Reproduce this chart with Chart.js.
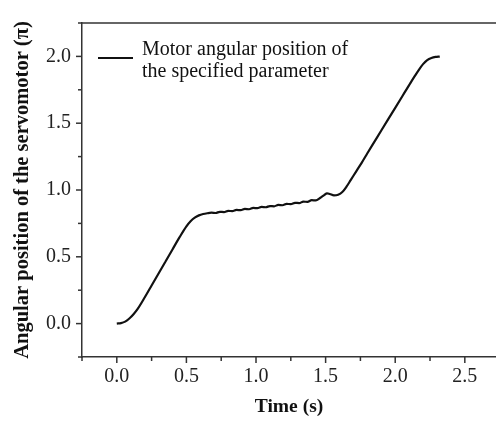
<!DOCTYPE html>
<html>
<head>
<meta charset="utf-8">
<script src="https://cdn.jsdelivr.net/npm/chart.js@4/dist/chart.umd.min.js"></script>
<style>
  html, body { margin: 0; padding: 0; background: #fff; overflow: hidden; }
  #wrap { width: 496px; height: 421px; }
</style>
</head>
<body>
<div id="wrap"><canvas id="servo-chart" width="496" height="421"></canvas></div>
<script>
// time (s) and servomotor angular position (pi)
const timeValues = [
    0.00, 0.03, 0.06, 0.09, 0.12, 0.15, 0.20, 0.25, 0.30, 0.35,
    0.40, 0.45, 0.50, 0.53, 0.56, 0.59, 0.62, 0.65, 0.68, 0.71,
    0.74, 0.77, 0.80, 0.83, 0.86, 0.89, 0.92, 0.95, 0.98, 1.01,
    1.04, 1.07, 1.10, 1.13, 1.16, 1.19, 1.22, 1.25, 1.28, 1.31,
    1.34, 1.37, 1.40, 1.43, 1.46, 1.49, 1.51, 1.53, 1.56, 1.59,
    1.62, 1.65, 1.68, 1.72, 1.76, 1.80, 1.85, 1.90, 1.95, 2.00,
    2.05, 2.10, 2.14, 2.17, 2.20, 2.23, 2.26, 2.29, 2.32
];
const positionValues = [
    0.000, 0.004, 0.015, 0.038, 0.070, 0.110, 0.195, 0.285, 0.375, 0.465,
    0.555, 0.645, 0.728, 0.766, 0.793, 0.810, 0.820, 0.826, 0.830, 0.828,
    0.837, 0.835, 0.844, 0.842, 0.851, 0.849, 0.858, 0.856, 0.866, 0.864,
    0.873, 0.871, 0.880, 0.878, 0.888, 0.886, 0.896, 0.894, 0.904, 0.902,
    0.913, 0.911, 0.924, 0.922, 0.940, 0.962, 0.975, 0.970, 0.960, 0.965,
    0.985, 1.025, 1.074, 1.140, 1.205, 1.275, 1.360, 1.445, 1.530, 1.615,
    1.700, 1.785, 1.852, 1.900, 1.942, 1.972, 1.988, 1.996, 1.999
];
const legendLines = ['Motor angular position of', 'the specified parameter'];
const xTitle = 'Time (s)';
const yTitle = 'Angular position of the servomotor (\u03c0)';

const FONT = "'Liberation Serif', 'Times New Roman', serif";
const AXIS_COLOR = '#333';

function isMajor(v) {
    return Math.abs(v * 2 - Math.round(v * 2)) < 1e-6;
}

// outward ticks, long at labelled values, short in between
const tickMarks = {
    id: 'tickMarks',
    afterDraw(chart) {
        const ctx = chart.ctx;
        const {x, y} = chart.scales;
        ctx.save();
        ctx.strokeStyle = AXIS_COLOR;
        ctx.lineWidth = 1.5;
        x.ticks.forEach(t => {
            const px = x.getPixelForValue(t.value);
            const len = isMajor(t.value) ? 6 : 4;
            ctx.beginPath();
            ctx.moveTo(px, x.top);
            ctx.lineTo(px, x.top + len);
            ctx.stroke();
        });
        y.ticks.forEach(t => {
            const py = y.getPixelForValue(t.value);
            const len = isMajor(t.value) ? 6 : 4;
            ctx.beginPath();
            ctx.moveTo(y.right, py);
            ctx.lineTo(y.right - len, py);
            ctx.stroke();
        });
        // top frame line, no right side visible
        const area = chart.chartArea;
        ctx.beginPath();
        ctx.moveTo(area.left, area.top);
        ctx.lineTo(area.right, area.top);
        ctx.stroke();
        ctx.restore();
    }
};

const legendBox = {
    id: 'legendBox',
    afterDraw(chart) {
        const ctx = chart.ctx;
        const area = chart.chartArea;
        const x0 = area.left + 16;
        const y0 = area.top + 35;
        ctx.save();
        ctx.strokeStyle = '#111';
        ctx.lineWidth = 2;
        ctx.beginPath();
        ctx.moveTo(x0, y0);
        ctx.lineTo(x0 + 35, y0);
        ctx.stroke();
        ctx.fillStyle = '#111';
        ctx.font = "20px " + FONT;
        ctx.textBaseline = 'middle';
        ctx.fillText(legendLines[0], x0 + 44, y0 - 8);
        ctx.fillText(legendLines[1], x0 + 44, y0 + 14);
        ctx.restore();
    }
};

const points = timeValues.map((t, i) => ({x: t, y: positionValues[i]}));

new Chart(document.getElementById('servo-chart').getContext('2d'), {
    type: 'scatter',
    data: {
        datasets: [{
            label: legendLines.join(' '),
            data: points,
            showLine: true,
            borderColor: '#111',
            borderWidth: 2.2,
            pointRadius: 0,
            cubicInterpolationMode: 'monotone'
        }]
    },
    options: {
        responsive: false,
        animation: false,
        layout: { padding: { top: 23, right: 0, left: 0, bottom: 0 } },
        plugins: {
            legend: { display: false },
            tooltip: { enabled: false }
        },
        scales: {
            x: {
                type: 'linear',
                min: -0.25,
                max: 2.724,
                afterFit: scale => { scale.height = 64; },
                grid: { display: false, drawTicks: true, tickLength: 6 },
                border: { display: true, color: AXIS_COLOR, width: 1.5 },
                ticks: {
                    stepSize: 0.25,
                    includeBounds: false,
                    maxRotation: 0,
                    autoSkip: false,
                    padding: 2,
                    color: '#222',
                    font: { family: FONT, size: 20 },
                    callback: v => isMajor(v) ? v.toFixed(1) : ''
                },
                title: {
                    display: true,
                    text: xTitle,
                    color: '#111',
                    padding: { top: 0, bottom: 2 },
                    font: { family: FONT, size: 19.5, weight: 'bold' }
                }
            },
            y: {
                type: 'linear',
                min: -0.25,
                max: 2.25,
                afterFit: scale => { scale.width = 82; },
                grid: { display: false, drawTicks: true, tickLength: 6 },
                border: { display: true, color: AXIS_COLOR, width: 1.5 },
                ticks: {
                    stepSize: 0.25,
                    includeBounds: false,
                    autoSkip: false,
                    padding: 5,
                    color: '#222',
                    font: { family: FONT, size: 20 },
                    callback: v => isMajor(v) ? v.toFixed(1) : ''
                },
                title: {
                    display: true,
                    text: yTitle,
                    color: '#111',
                    padding: { top: 10, bottom: 0 },
                    font: { family: FONT, size: 20.5, weight: 'bold' }
                }
            }
        }
    },
    plugins: [tickMarks, legendBox]
});
</script>
</body>
</html>
